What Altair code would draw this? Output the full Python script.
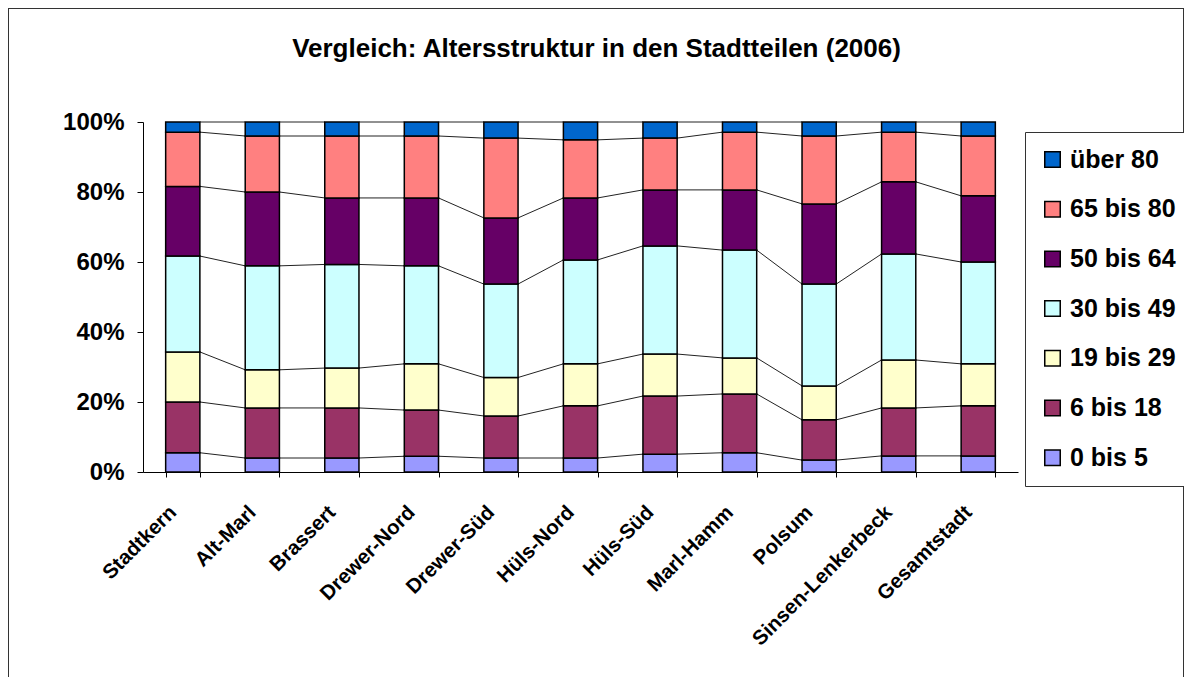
import altair as alt
import pandas as pd

categories = ["Stadtkern", "Alt-Marl", "Brassert", "Drewer-Nord", "Drewer-Süd",
              "Hüls-Nord", "Hüls-Süd", "Marl-Hamm", "Polsum", "Sinsen-Lenkerbeck",
              "Gesamtstadt"]
groups = ["0 bis 5", "6 bis 18", "19 bis 29", "30 bis 49", "50 bis 64", "65 bis 80", "über 80"]
colors = ["#9999FF", "#993366", "#FFFFCC", "#CCFFFF", "#660066", "#FF8080", "#0066CC"]

# percent shares per group (rows = groups in order above, columns = categories)
v_0_5   = [5.5, 4.0, 4.0, 4.5, 4.0, 4.0, 5.1, 5.5, 3.4, 4.6, 4.6]
v_6_18  = [14.5, 14.3, 14.3, 13.2, 12.0, 14.9, 16.6, 16.8, 11.5, 13.7, 14.3]
v_19_29 = [14.3, 10.9, 11.4, 13.2, 11.0, 12.0, 12.0, 10.3, 9.7, 13.7, 12.0]
v_30_49 = [27.4, 29.7, 29.6, 28.0, 26.7, 29.7, 30.9, 30.8, 29.1, 30.3, 29.1]
v_50_64 = [19.9, 21.1, 19.0, 19.4, 18.9, 17.7, 16.0, 17.2, 22.9, 20.6, 18.9]
v_65_80 = [15.5, 16.0, 17.7, 17.7, 22.8, 16.6, 14.8, 16.5, 19.4, 14.2, 17.1]
v_80p   = [2.9, 4.0, 4.0, 4.0, 4.6, 5.1, 4.6, 2.9, 4.0, 2.9, 4.0]
series = [v_0_5, v_6_18, v_19_29, v_30_49, v_50_64, v_65_80, v_80p]

rows = []
for gi, (g, vals) in enumerate(zip(groups, series)):
    for c, v in zip(categories, vals):
        rows.append({"Stadtteil": c, "Gruppe": g, "order": gi, "Wert": v})
df = pd.DataFrame(rows)

# cumulative (normalized) levels for connector lines
cum = {}
for ci, c in enumerate(categories):
    tot = sum(s[ci] for s in series)
    acc = 0.0
    levels = []
    for s in series:
        acc += s[ci]
        levels.append(acc / tot)
    cum[c] = levels
lrows = []
for i in range(len(categories) - 1):
    a, b = categories[i], categories[i + 1]
    for k in range(len(groups)):
        lrows.append({"a": a, "b": b, "ya": cum[a][k], "yb": cum[b][k], "k": k})
ldf = pd.DataFrame(lrows)

W, H = 875, 350
xscale = alt.Scale(domain=categories, paddingInner=0.57, paddingOuter=0.285)

frame = alt.Chart(pd.DataFrame({"d": [0]})).mark_rect(
    fill=None, stroke="#333333", strokeWidth=2
).encode(
    x=alt.value(-135), x2=alt.value(1041), y=alt.value(-114), y2=alt.value(700)
)

connectors = alt.Chart(ldf).mark_rule(color="#222222", strokeWidth=1).encode(
    x=alt.X("a:N", scale=xscale, bandPosition=1),
    x2=alt.X2("b:N", bandPosition=0),
    y=alt.Y("ya:Q", scale=alt.Scale(domain=[0, 1])),
    y2="yb:Q",
)

bars = alt.Chart(df).mark_bar(stroke="black", strokeWidth=1.5).encode(
    x=alt.X("Stadtteil:N", scale=xscale, sort=categories, title=None,
            axis=alt.Axis(labelAngle=-45, labelAlign="right", labelBaseline="middle",
                          labelFont="Liberation Sans", labelFontWeight="bold",
                          labelFontSize=20.5, labelColor="black", labelPadding=32,
                          labelOffset=-10, labelLimit=300,
                          tickBand="extent", tickSize=5, tickColor="black",
                          domainColor="black", domainWidth=1)),
    y=alt.Y("Wert:Q", stack="normalize", scale=alt.Scale(domain=[0, 1]), title=None,
            axis=alt.Axis(values=[0, 0.2, 0.4, 0.6, 0.8, 1.0], format=".0%",
                          labelFont="Liberation Sans", labelFontWeight="bold",
                          labelFontSize=24, labelColor="black", labelPadding=13,
                          tickSize=6, tickColor="black", domainColor="black",
                          grid=False)),
    color=alt.Color("Gruppe:N",
                    scale=alt.Scale(domain=groups[::-1], range=colors[::-1]),
                    legend=alt.Legend(title=None, orient="none", legendX=882, legendY=10,
                                      symbolType="square", symbolSize=240,
                                      symbolStrokeColor="black", symbolStrokeWidth=1.5,
                                      symbolOpacity=1,
                                      labelFont="Liberation Sans", labelFontWeight="bold",
                                      labelFontSize=25, labelColor="black",
                                      rowPadding=23.7, padding=15, labelOffset=5,
                                      strokeColor="#333333", fillColor="white")),
    order=alt.Order("order:Q", sort="ascending"),
)

chart = alt.layer(frame, connectors, bars).properties(
    width=W, height=H,
    autosize=alt.AutoSizeParams(type="none"),
    padding={"left": 135, "top": 114, "right": 166, "bottom": 205},
    title=alt.TitleParams("Vergleich: Altersstruktur in den Stadtteilen (2006)",
                          font="Liberation Sans", fontWeight="bold", fontSize=26,
                          color="black", anchor="middle", offset=-55, dx=16),
).configure_view(stroke=None)

chart.save("out.html", embed_options={"renderer": "svg", "actions": False})
